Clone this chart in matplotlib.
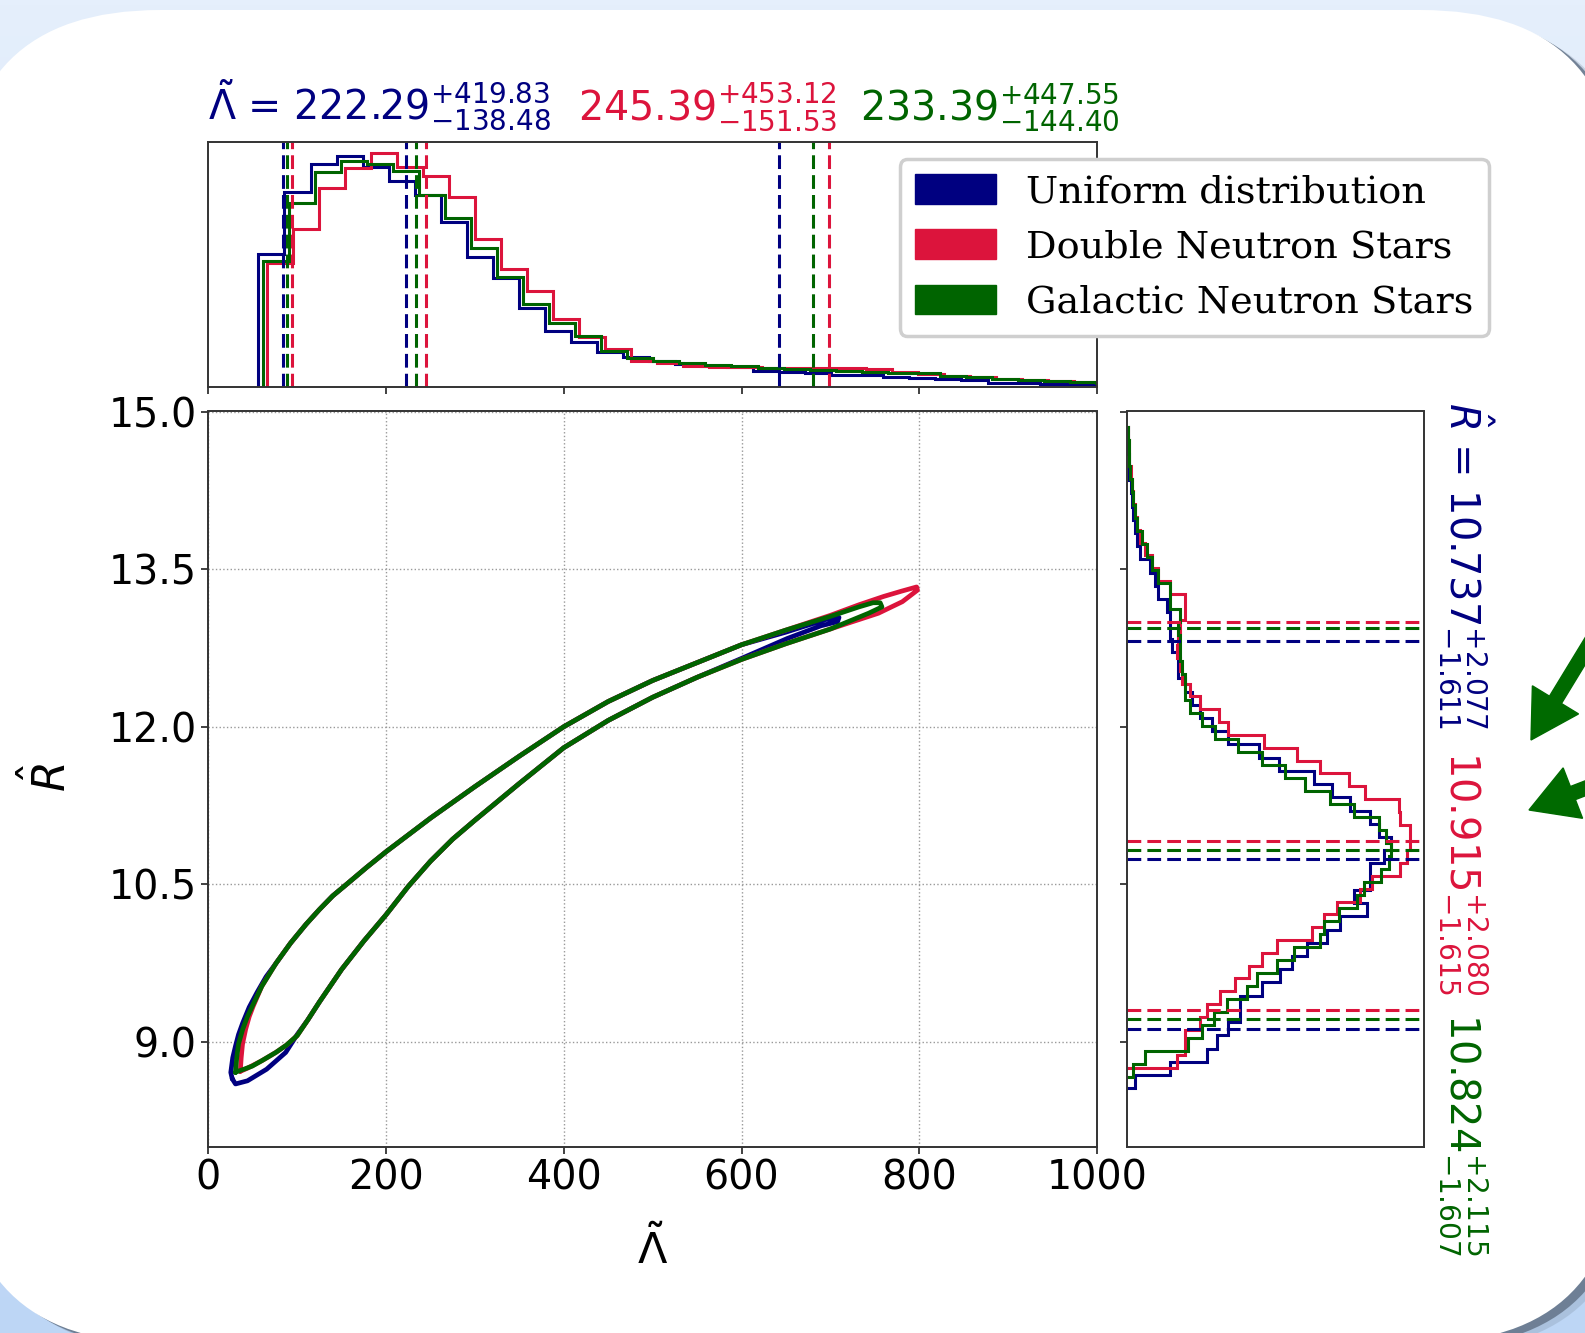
import numpy as np
import matplotlib
matplotlib.use('Agg')
import matplotlib.pyplot as plt
from matplotlib.patches import FancyBboxPatch, FancyArrow, Patch
from matplotlib.colors import LinearSegmentedColormap

# figure size in pixels (dpi = 100)
W, H = 1585, 1333

colors = ['navy', 'crimson', 'darkgreen']
labels = ['Uniform distribution', 'Double Neutron Stars', 'Galactic Neutron Stars']

# Lambda-tilde summaries: median, upper error, lower error
lam_med = [222.29, 245.39, 233.39]
lam_up = [419.83, 453.12, 447.55]
lam_dn = [138.48, 151.53, 144.40]

# R-hat summaries
r_med = [10.737, 10.915, 10.824]
r_up = [2.077, 2.080, 2.115]
r_dn = [1.611, 1.615, 1.607]

# Lambda-tilde histograms (normalised heights), regular bins
lam_start = [56.4, 65.8, 61.3]
lam_bin = 29.3
lam_hist_uniform = [0.540, 0.793, 0.908, 0.943, 0.898, 0.840, 0.782, 0.673, 0.528, 0.442,
                    0.320, 0.229, 0.184, 0.140, 0.120, 0.105, 0.092, 0.086, 0.080, 0.066,
                    0.060, 0.055, 0.048, 0.047, 0.040, 0.037, 0.031, 0.028, 0.016, 0.014,
                    0.012, 0.010, 0.009]
lam_hist_dns = [0.503, 0.644, 0.810, 0.894, 0.952, 0.898, 0.861, 0.773, 0.603, 0.480,
                0.392, 0.276, 0.204, 0.153, 0.106, 0.095, 0.085, 0.082, 0.080, 0.077,
                0.075, 0.075, 0.075, 0.074, 0.060, 0.052, 0.045, 0.038, 0.030, 0.027,
                0.024, 0.020]
lam_hist_gns = [0.514, 0.748, 0.875, 0.922, 0.908, 0.882, 0.782, 0.687, 0.565, 0.449,
                0.338, 0.259, 0.207, 0.147, 0.116, 0.104, 0.098, 0.090, 0.085, 0.075,
                0.071, 0.068, 0.066, 0.062, 0.056, 0.054, 0.045, 0.038, 0.032, 0.027,
                0.023, 0.018, 0.016]

# R-hat histograms, 50 bins between min and max of each sample
r_min = [8.56, 8.75, 8.67]
r_max = [14.85, 14.85, 14.85]
r_hist_uniform = [0.027, 0.145, 0.269, 0.303, 0.342, 0.382, 0.382, 0.455, 0.517, 0.556,
                  0.607, 0.675, 0.720, 0.810, 0.765, 0.821, 0.821, 0.866, 0.889, 0.849,
                  0.821, 0.753, 0.691, 0.630, 0.511, 0.444, 0.342, 0.286, 0.247, 0.218,
                  0.196, 0.173, 0.173, 0.151, 0.145, 0.145, 0.134, 0.106, 0.095, 0.078,
                  0.044, 0.033, 0.027, 0.019, 0.016, 0.012, 0.008, 0.006, 0.004, 0.002]
r_hist_dns = [0.168, 0.196, 0.196, 0.247, 0.269, 0.314, 0.365, 0.410, 0.455, 0.506,
              0.624, 0.663, 0.708, 0.787, 0.827, 0.922, 0.945, 0.956, 0.956, 0.920,
              0.917, 0.804, 0.748, 0.652, 0.573, 0.461, 0.342, 0.309, 0.247, 0.213,
              0.185, 0.179, 0.168, 0.173, 0.179, 0.196, 0.196, 0.145, 0.106, 0.083,
              0.061, 0.044, 0.033, 0.027, 0.019, 0.016, 0.012, 0.008, 0.006, 0.003]
r_hist_gns = [0.021, 0.061, 0.207, 0.252, 0.292, 0.337, 0.404, 0.438, 0.506, 0.562,
              0.652, 0.663, 0.714, 0.776, 0.798, 0.855, 0.883, 0.889, 0.872, 0.849,
              0.765, 0.686, 0.601, 0.534, 0.455, 0.376, 0.297, 0.252, 0.213, 0.196,
              0.196, 0.185, 0.179, 0.179, 0.173, 0.179, 0.145, 0.145, 0.106, 0.083,
              0.066, 0.050, 0.033, 0.027, 0.021, 0.016, 0.010, 0.008, 0.006, 0.003]

# credible-region contours (Lambda-tilde, R-hat), traced round each closed curve
cont_lam_uniform = [26.9, 25.3, 27.5, 30.6, 34.0, 38.7, 46.0, 54.8, 65.0, 76.3,
                    92.5, 110, 125, 140, 157, 178, 200, 250, 300, 350,
                    400, 450, 500, 550, 600, 650, 694.6, 709.7, 708.1, 689.2,
                    651.6, 600, 550, 500, 450, 400, 350, 300, 275, 250,
                    225, 200, 175, 150, 125, 112, 100, 87.1, 65.6, 44.1,
                    30.6, 26.9]
cont_r_uniform = [8.65, 8.71, 8.85, 8.96, 9.07, 9.18, 9.33, 9.47, 9.62, 9.75,
                  9.94, 10.12, 10.26, 10.39, 10.51, 10.66, 10.81, 11.13, 11.43, 11.72,
                  12.00, 12.24, 12.44, 12.61, 12.78, 12.90, 13.02, 13.04, 13.00, 12.96,
                  12.84, 12.65, 12.47, 12.28, 12.06, 11.80, 11.46, 11.11, 10.93, 10.72,
                  10.48, 10.21, 9.96, 9.69, 9.38, 9.21, 9.07, 8.90, 8.74, 8.63,
                  8.60, 8.65]
cont_lam_dns = [36.0, 37.0, 38.5, 42.0, 46.0, 50.5, 60.2, 76.3, 92.5, 110,
                125, 140, 157, 178, 200, 250, 300, 350, 400, 450,
                500, 550, 600, 650, 700, 732, 760, 780, 797, 798,
                781, 754, 721.5, 700, 650, 600, 550, 500, 450, 400,
                350, 300, 275, 250, 225, 200, 175, 150, 125, 112,
                100, 88, 76, 60, 44, 36.0]
cont_r_dns = [8.72, 8.85, 8.98, 9.12, 9.24, 9.34, 9.53, 9.75, 9.94, 10.12,
              10.26, 10.39, 10.51, 10.66, 10.81, 11.13, 11.43, 11.72, 12.00, 12.24,
              12.44, 12.61, 12.78, 12.92, 13.06, 13.16, 13.24, 13.29, 13.33, 13.30,
              13.19, 13.08, 12.99, 12.93, 12.79, 12.64, 12.47, 12.28, 12.06, 11.80,
              11.46, 11.11, 10.93, 10.72, 10.48, 10.21, 9.96, 9.69, 9.38, 9.21,
              9.06, 8.97, 8.90, 8.82, 8.75, 8.72]
cont_lam_gns = [30.6, 32.0, 34.0, 38.7, 44.0, 49.5, 60.2, 76.3, 92.5, 110,
                125, 140, 157, 178, 200, 250, 300, 350, 400, 450,
                500, 550, 600, 650, 700, 732, 748, 756, 758, 743,
                720, 700, 650, 600, 550, 500, 450, 400, 350, 300,
                275, 250, 225, 200, 175, 150, 125, 112, 100, 88,
                76, 62, 49.5, 40, 33.3, 30.6]
cont_r_gns = [8.71, 8.85, 8.98, 9.12, 9.24, 9.34, 9.53, 9.75, 9.94, 10.12,
              10.26, 10.39, 10.51, 10.66, 10.81, 11.13, 11.43, 11.72, 12.00, 12.24,
              12.44, 12.61, 12.78, 12.92, 13.05, 13.14, 13.18, 13.18, 13.14, 13.08,
              13.00, 12.93, 12.79, 12.64, 12.47, 12.28, 12.06, 11.80, 11.46, 11.11,
              10.93, 10.72, 10.48, 10.21, 9.96, 9.69, 9.38, 9.21, 9.06, 8.97,
              8.90, 8.83, 8.77, 8.74, 8.72, 8.71]

lam_hists = [lam_hist_uniform, lam_hist_dns, lam_hist_gns]
r_hists = [r_hist_uniform, r_hist_dns, r_hist_gns]
cont_lam = [cont_lam_uniform, cont_lam_dns, cont_lam_gns]
cont_r = [cont_r_uniform, cont_r_dns, cont_r_gns]


def fx(px):
    return px / W


def fy(py):
    return 1 - py / H


fig = plt.figure(figsize=(W / 100, H / 100), dpi=100)

# ---- slide background: gradient, shadow, white rounded card, arrows ----
bg = fig.add_axes([0, 0, 1, 1])
bg.set_xlim(0, W)
bg.set_ylim(H, 0)
bg.axis('off')
cmap = LinearSegmentedColormap.from_list('bg', ['#e5effc', '#bdd6f5'])
bg.imshow(np.linspace(0, 1, 256)[:, None], extent=[0, W, H, 0], cmap=cmap,
          aspect='auto', zorder=0)
for off, col, alpha in [(14, '#8193a8', 0.3), (8, '#5f6f83', 0.8)]:
    bg.add_patch(FancyBboxPatch((-40 + off, 10 + off * 0.6), 1661, 1333,
                                boxstyle='round,pad=0,rounding_size=200',
                                fc=col, ec='none', alpha=alpha, zorder=1))
bg.add_patch(FancyBboxPatch((-40, 10), 1661, 1333,
                            boxstyle='round,pad=0,rounding_size=200',
                            fc='white', ec='none', zorder=2))
bg.add_patch(FancyArrow(1609, 612, -78, 128, width=14, head_width=54, head_length=47,
                        length_includes_head=True, color='#006a00', zorder=3))
bg.add_patch(FancyArrow(1669, 756, -140, 54, width=14, head_width=54, head_length=47,
                        length_includes_head=True, color='#006a00', zorder=3))

spine_col = '#333333'
dash = (4.5, 2)

# ---- main joint axes ----
ax = fig.add_axes([fx(208.3), fy(1147), fx(1097) - fx(208.3), fy(411.5) - fy(1147)])
for c, lx, ly in zip(colors, cont_lam, cont_r):
    ax.plot(lx, ly, color=c, lw=3.4, solid_joinstyle='round', solid_capstyle='round')
ax.set_xlim(0, 1000)
ax.set_ylim(8, 15)
ax.set_xticks([0, 200, 400, 600, 800, 1000])
ax.set_yticks([9.0, 10.5, 12.0, 13.5, 15.0])
ax.set_yticklabels(['9.0', '10.5', '12.0', '13.5', '15.0'])
ax.grid(True, ls=':', color='#999999', lw=1)
ax.tick_params(labelsize=28.5, length=5, width=1.3, color=spine_col)
for s in ax.spines.values():
    s.set_color(spine_col)
    s.set_linewidth(1.4)

# ---- top histogram (Lambda-tilde) ----
axt = fig.add_axes([fx(208.3), fy(386.7), fx(1097) - fx(208.3), fy(141.7) - fy(386.7)])
for c, start, vals in zip(colors, lam_start, lam_hists):
    edges = start + lam_bin * np.arange(len(vals) + 1)
    axt.stairs(vals, edges, color=c, lw=2.2)
for c, m, u, d in zip(colors, lam_med, lam_up, lam_dn):
    for v in (m - d, m, m + u):
        axt.axvline(v, color=c, ls='--', dashes=dash, lw=2.2)
axt.set_xlim(0, 1000)
axt.set_ylim(0, 1)
axt.set_xticks([0, 200, 400, 600, 800, 1000])
axt.set_xticklabels([])
axt.set_yticks([])
axt.tick_params(length=5, width=1.3, color=spine_col)
for s in axt.spines.values():
    s.set_color(spine_col)
    s.set_linewidth(1.4)

# ---- right histogram (R-hat) ----
axr = fig.add_axes([fx(1127), fy(1147), fx(1423.5) - fx(1127), fy(411.5) - fy(1147)])
for c, lo, hi, vals in zip(colors, r_min, r_max, r_hists):
    edges = np.linspace(lo, hi, len(vals) + 1)
    axr.stairs(vals, edges, orientation='horizontal', color=c, lw=2.2)
for c, m, u, d in zip(colors, r_med, r_up, r_dn):
    for v in (m - d, m, m + u):
        axr.axhline(v, color=c, ls='--', dashes=dash, lw=2.2)
axr.set_ylim(8, 15)
axr.set_xlim(0, 1)
axr.set_yticks([9.0, 10.5, 12.0, 13.5, 15.0])
axr.set_yticklabels([])
axr.set_xticks([])
axr.tick_params(length=5, width=1.3, color=spine_col)
for s in axr.spines.values():
    s.set_color(spine_col)
    s.set_linewidth(1.4)

# ---- annotations ----
lam_x = [208, 578, 860]
for i, (c, m, u, d, x) in enumerate(zip(colors, lam_med, lam_up, lam_dn, lam_x)):
    s = r'$%.2f^{+%.2f}_{-%.2f}$' % (m, u, d)
    if i == 0:
        s = r'$\tilde{\Lambda}$ = ' + s
    fig.text(fx(x), fy(120), s, color=c, fontsize=28.5, ha='left', va='baseline')

r_y = [402, 751, 1013]
for i, (c, m, u, d, y) in enumerate(zip(colors, r_med, r_up, r_dn, r_y)):
    s = r'$%.3f^{+%.3f}_{-%.3f}$' % (m, u, d)
    if i == 0:
        s = r'$\hat{R}$ = ' + s
    fig.text(fx(1450), fy(y), s, color=c, fontsize=28.8, rotation=270,
             rotation_mode='anchor', ha='left', va='baseline')

fig.text(fx(653), fy(1250), r'$\tilde{\Lambda}$', fontsize=31, ha='center', va='center')
fig.text(fx(48), fy(778), r'$\hat{R}$', fontsize=32, rotation=90, ha='center', va='center')

handles = [Patch(color=c) for c in colors]
leg = fig.legend(handles, labels, loc='upper right', bbox_to_anchor=(fx(1489), fy(159)),
                 prop=dict(family='DejaVu Serif', size=27.5), handlelength=2.12,
                 handleheight=0.8, borderaxespad=0, framealpha=1, fancybox=True)
leg.get_frame().set_edgecolor('#cfcfcf')
leg.get_frame().set_linewidth(2.5)

fig.savefig('out.png', dpi=100)
